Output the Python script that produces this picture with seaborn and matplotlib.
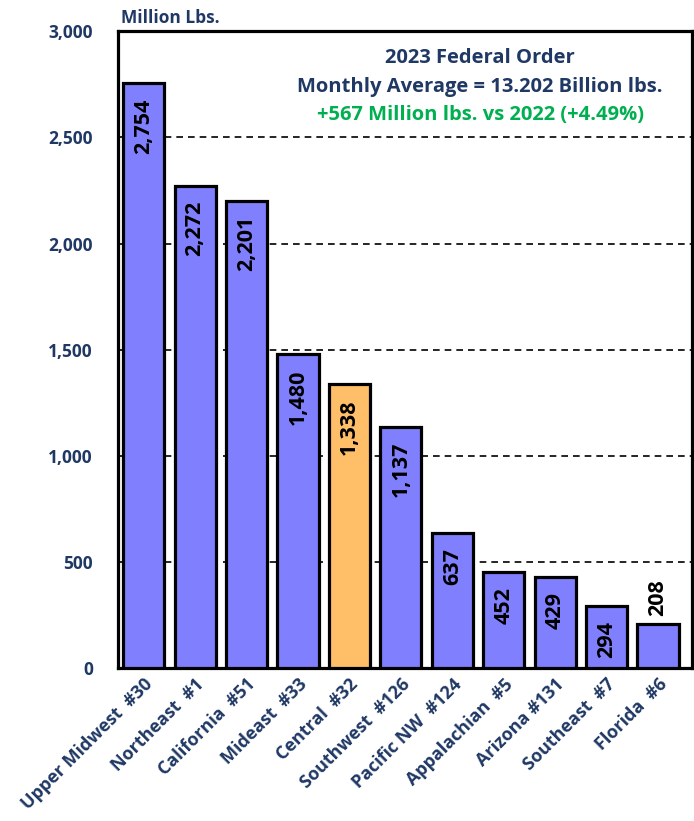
import matplotlib
matplotlib.use("Agg")
import matplotlib.pyplot as plt
import seaborn as sns
import pandas as pd

categories = ["Upper Midwest  #30", "Northeast  #1", "California  #51", "Mideast  #33",
              "Central  #32", "Southwest  #126", "Pacific NW  #124", "Appalachian  #5",
              "Arizona #131", "Southeast  #7", "Florida  #6"]
values = [2754, 2272, 2201, 1480, 1338, 1137, 637, 452, 429, 294, 208]
highlight = [False, False, False, False, True, False, False, False, False, False, False]
yticks = [0, 500, 1000, 1500, 2000, 2500, 3000]

sns.set_theme(style="white")
plt.rcParams['font.family'] = ['Open Sans', 'DejaVu Sans']

NAVY = "#1F3864"
GREEN = "#00B050"
df = pd.DataFrame({"cat": categories, "val": values,
                   "grp": ["hi" if h else "lo" for h in highlight]})

fig = plt.figure(figsize=(6.94, 8.21), dpi=100)
ax = fig.add_axes([0.170, 0.186, 0.827, 0.776])
sns.barplot(data=df, x="cat", y="val", hue="grp", order=categories,
            palette={"lo": "#8080FF", "hi": "#FFBF69"}, dodge=False, saturation=1,
            edgecolor="black", linewidth=2.3, width=0.8, legend=False, ax=ax, zorder=3)

ax.set_ylim(0, 3000)
ax.set_xlim(-0.5, 10.66)
ax.set_yticks(yticks)
ax.set_yticklabels([f"{v:,}" for v in yticks], fontsize=12.5, fontweight="bold", color=NAVY)
ax.tick_params(axis="y", length=0, pad=18)
ax.tick_params(axis="x", length=0, pad=5)
ax.set_xticks(range(len(categories)))
ax.set_xticklabels(categories, rotation=45, ha="right", rotation_mode="anchor",
                   fontsize=13, fontweight="bold", color=NAVY)
ax.set_xlabel("")
ax.set_ylabel("")
for y in yticks[1:-1]:
    ax.axhline(y, color="black", linestyle=(0, (4, 3)), linewidth=1.2, zorder=1)
for s in ax.spines.values():
    s.set_visible(True)
    s.set_color("black")
    s.set_linewidth(2.3)

for i, v in enumerate(values):
    if v < 250:
        ax.annotate(f"{v:,}", (i, v), xytext=(0, 6), textcoords="offset points",
                    rotation=90, ha="center", va="bottom", fontsize=15.5, fontweight="bold",
                    color="black", zorder=5)
    else:
        ax.annotate(f"{v:,}", (i, v), xytext=(0, -11), textcoords="offset points",
                    rotation=90, ha="center", va="top", fontsize=15.5, fontweight="bold",
                    color="black", zorder=5)

cx = 0.631
ax.text(cx, 0.974, "2023 Federal Order", transform=ax.transAxes, ha="center", va="top",
        fontsize=14.5, fontweight="bold", color=NAVY)
ax.text(cx, 0.928, "Monthly Average = 13.202 Billion lbs.", transform=ax.transAxes,
        ha="center", va="top", fontsize=14.5, fontweight="bold", color=NAVY)
ax.text(cx, 0.884, "+567 Million lbs. vs 2022 (+4.49%)", transform=ax.transAxes,
        ha="center", va="top", fontsize=14.5, fontweight="bold", color=GREEN)
fig.text(121 / 694, 1 - 18 / 821, "Million Lbs.", ha="left", va="center",
         fontsize=12.5, fontweight="bold", color=NAVY)

fig.savefig("out.png", dpi=100)
